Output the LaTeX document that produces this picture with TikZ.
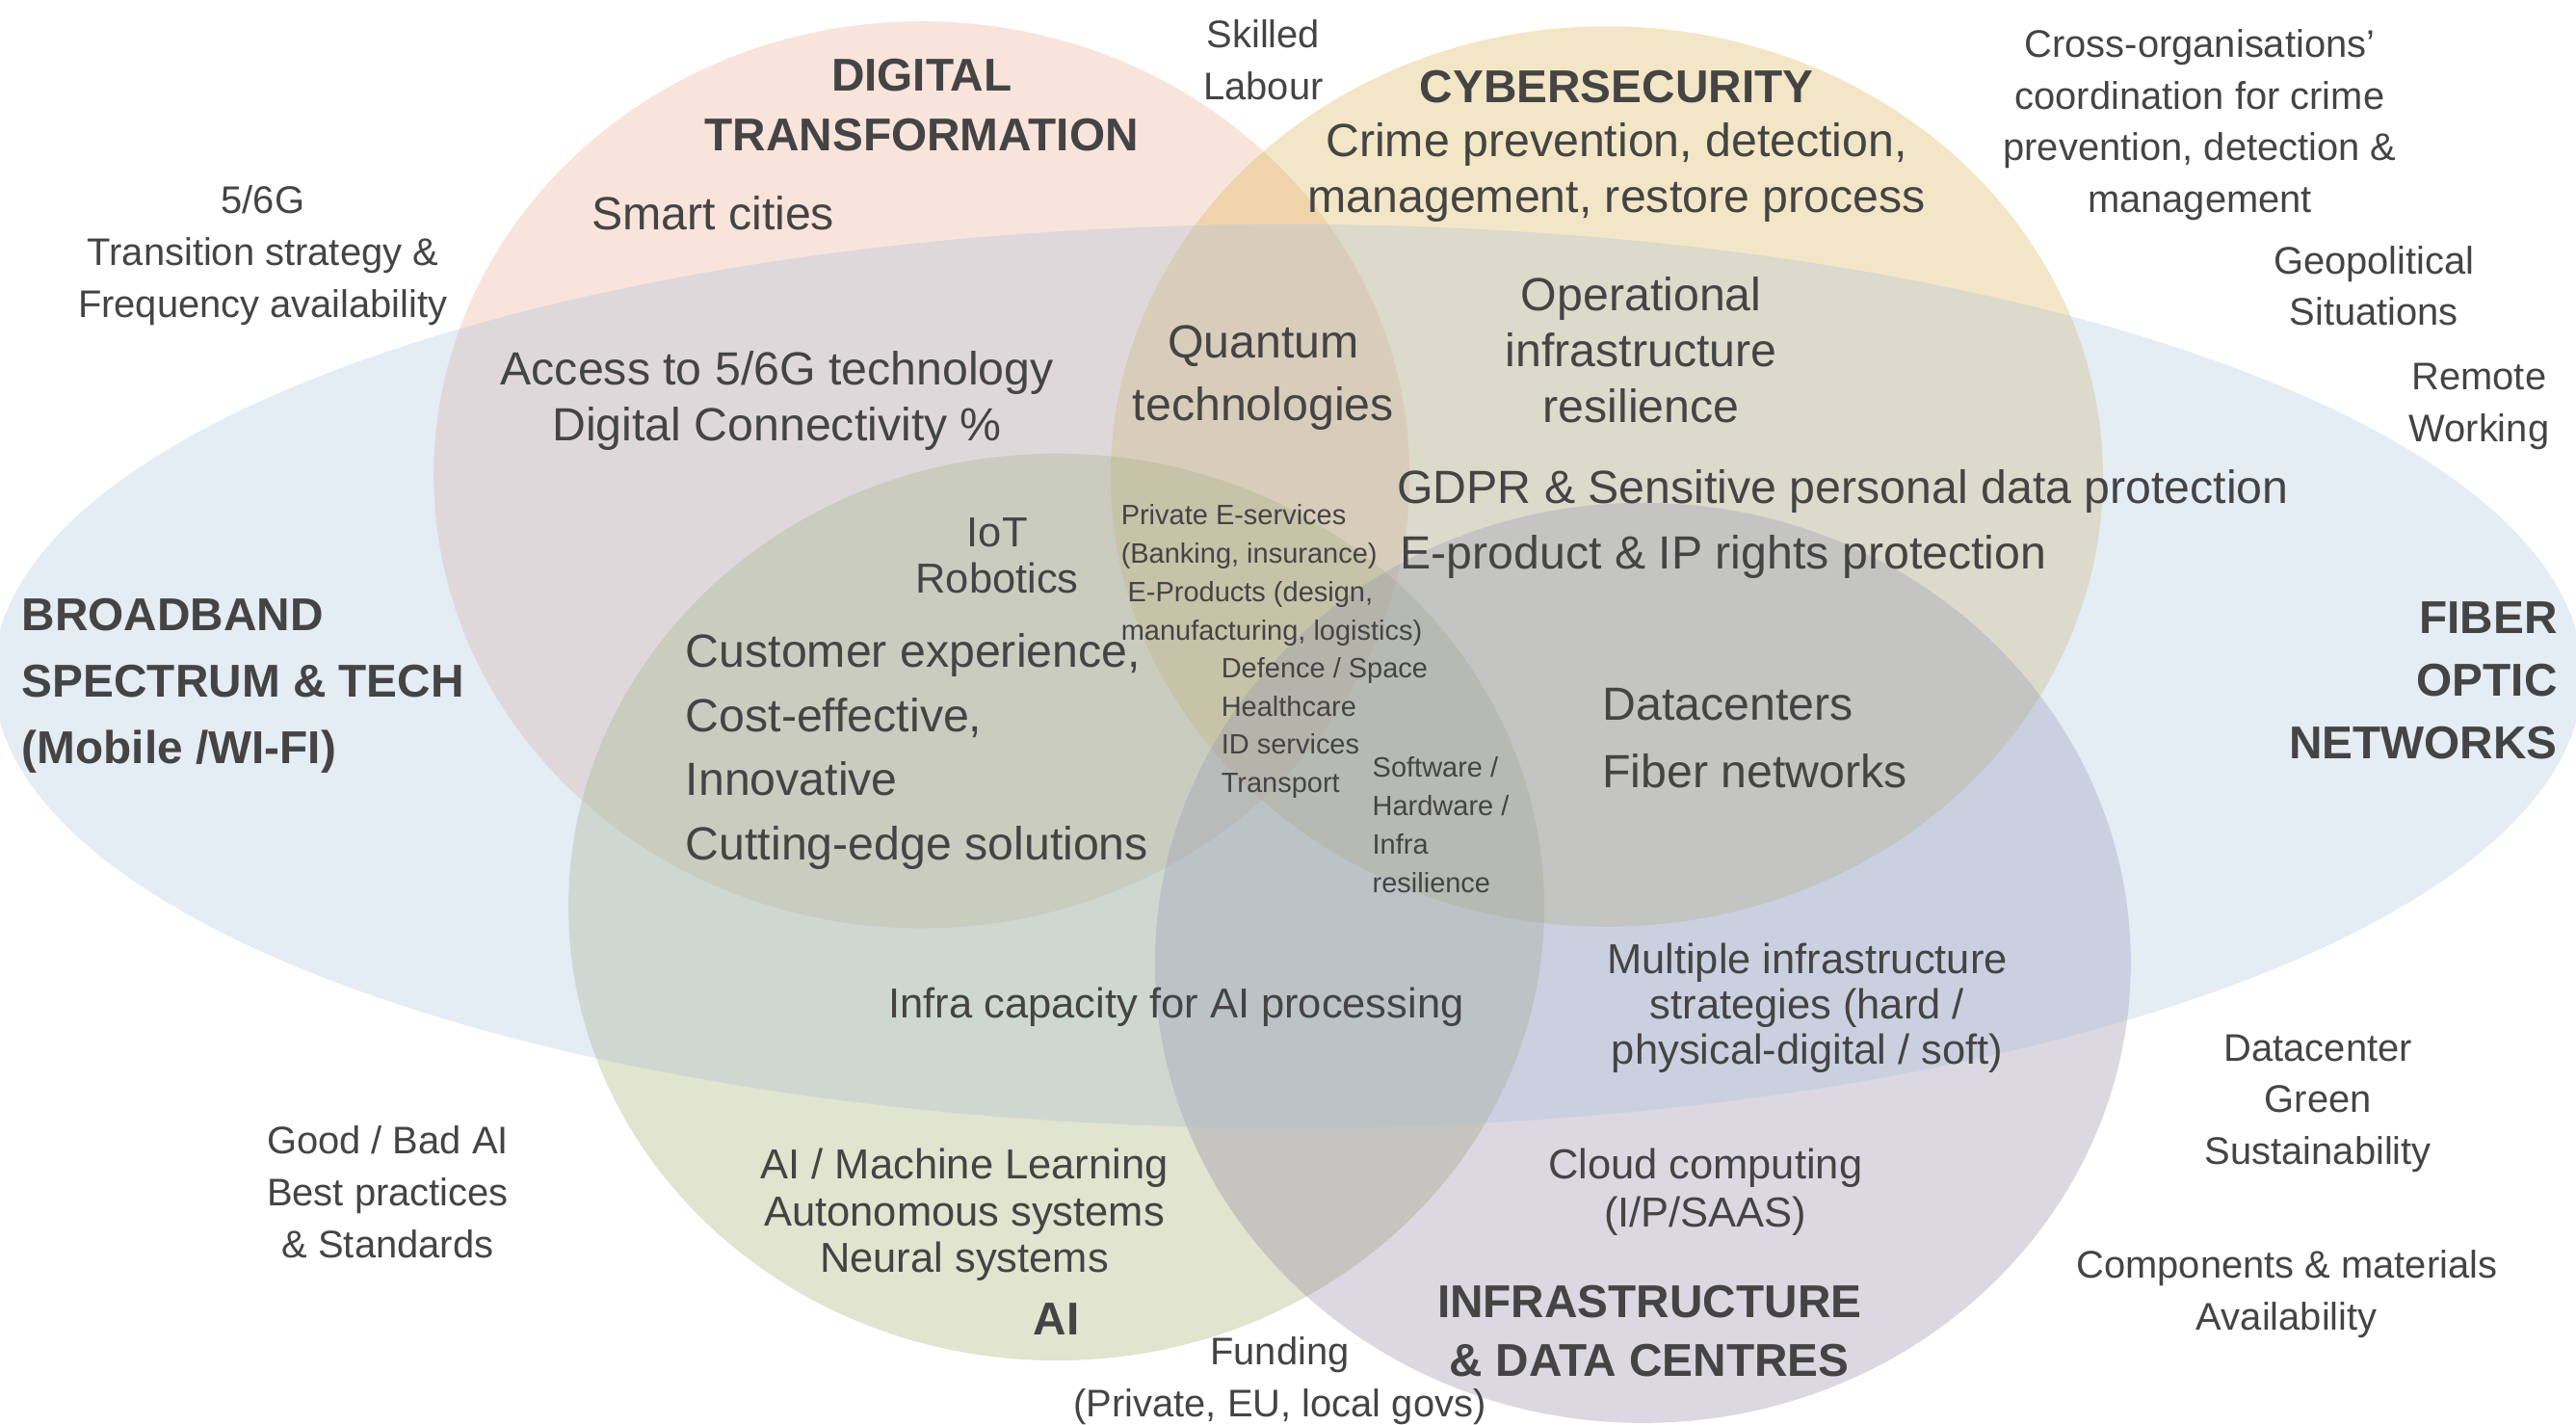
\documentclass[tikz,border=0pt]{standalone}
\usepackage{fontspec}
\setmainfont{Liberation Sans}
\definecolor{txt}{HTML}{444444}
\definecolor{cpink}{RGB}{235,165,138}
\definecolor{cyellow}{RGB}{215,172,65}
\definecolor{cblue}{RGB}{165,192,218}
\definecolor{cgreen}{RGB}{155,165,92}
\definecolor{cpurple}{RGB}{135,125,155}
\newcommand\fsz[2]{\fontsize{#1}{#2}\selectfont}
\tikzset{
  every node/.style={text=txt, inner sep=0pt},
  blob/.style={fill opacity=0.3, draw=none},
  big/.style={font=\fsz{14.15}{17}, yshift=-1.5pt},
  mid/.style={font=\fsz{12.75}{14}, yshift=-1.5pt},
  outer/.style={font=\fsz{11.7}{15.7}, yshift=-1.5pt},
  small/.style={font=\fsz{8.5}{11.7}, yshift=-1pt},
  ttl/.style={font=\fsz{14}{18}\bfseries},
}
\begin{document}
\begin{tikzpicture}[x=0.5pt,y=-0.5pt]
\useasboundingbox (0,0) rectangle (1568,867);
\clip (0,0) rectangle (1568,867);
% sets
\fill[blob, cpink]   (561,289) ellipse [x radius=148.5pt, y radius=138pt];
\fill[blob, cyellow] (978,290) ellipse [x radius=151pt, y radius=137pt];
\fill[blob, cgreen]  (643,552) ellipse [x radius=148.5pt, y radius=138pt];
\fill[blob, cpurple] (1000,586) ellipse [x radius=148.5pt, y radius=140pt];
\fill[blob, cblue]   (784,411.5) ellipse [x radius=394pt, y radius=137.5pt];
% titles
\node[ttl, align=center] (dt) at (561,64) {DIGITAL\\TRANSFORMATION};
\node[ttl] (cy) at (984,53) {CYBERSECURITY};
\node[ttl, align=left, anchor=west, font=\fsz{14}{20.2}\bfseries] (bb) at (13,417.5) {BROADBAND\\SPECTRUM \& TECH\\(Mobile /WI-FI)};
\node[ttl, align=right, anchor=east, font=\fsz{14}{19}\bfseries] (fo) at (1557,414) {FIBER\\OPTIC\\NETWORKS};
\node[ttl] (ai) at (643,803) {AI};
\node[ttl, align=center] (inf) at (1004,810) {INFRASTRUCTURE\\\& DATA CENTRES};
% inner texts
\node[big] (smart) at (434,127) {Smart cities};
\node[big, align=center] (crime) at (984,102) {Crime prevention, detection,\\management, restore process};
\node[big, align=center] (oper) at (999,210) {Operational\\infrastructure\\resilience};
\node[big, align=center, font=\fsz{14.15}{19}] (quant) at (769,227) {Quantum\\technologies};
\node[big, align=center] (access) at (473,241) {Access to 5/6G technology\\Digital Connectivity \%};
\node[big, anchor=west] (gdpr) at (850,296) {GDPR \& Sensitive personal data protection};
\node[big, anchor=west] (eprod) at (852,336) {E-product \& IP rights protection};
\node[mid, align=center] (iot) at (607,335) {IoT\\Robotics};
\node[small, align=left, anchor=west] (priv) at (682,348) {Private E-services\\(Banking, insurance)\\\hspace{2pt}E-Products (design,\\manufacturing, logistics)};
\node[small, align=left, anchor=west] (def) at (743,441) {Defence / Space\\Healthcare\\ID services\\Transport};
\node[small, align=left, anchor=west] (soft) at (835,500) {Software /\\Hardware /\\Infra\\resilience};
\node[big, align=left, anchor=west, font=\fsz{14.15}{19.5}] (cust) at (417,454.5) {Customer experience,\\Cost-effective,\\Innovative\\Cutting-edge solutions};
\node[big, align=left, anchor=west, font=\fsz{14.15}{20.5}] (dc) at (975,446.5) {Datacenters\\Fiber networks};
\node[mid] (infcap) at (716,610) {Infra capacity for AI processing};
\node[mid, align=center, font=\fsz{12.75}{13.75}] (multi) at (1100,610.5) {Multiple infrastructure\\strategies (hard /\\physical-digital / soft)};
\node[mid, align=center, font=\fsz{12.75}{14.25}] (aiml) at (587,736.5) {AI / Machine Learning\\Autonomous systems\\Neural systems};
\node[mid, align=center, font=\fsz{12.75}{14.5}] (cloud) at (1038,722.5) {Cloud computing\\(I/P/SAAS)};
% outer texts
\node[outer, align=center] (skill) at (769,33.5) {Skilled\\Labour};
\node[outer, align=center] (cross) at (1339,73) {Cross-organisations’\\coordination for crime\\prevention, detection \&\\management};
\node[outer, align=center] (fiveg) at (160,152.5) {5/6G\\Transition strategy \&\\Frequency availability};
\node[outer, align=center] (geo) at (1445,171) {Geopolitical\\Situations};
\node[outer, align=center] (remote) at (1509,244.5) {Remote\\Working};
\node[outer, align=center] (green) at (1411,668.5) {Datacenter\\Green\\Sustainability};
\node[outer, align=center] (good) at (236,722.5) {Good / Bad AI\\Best practices\\\& Standards};
\node[outer, align=center] (comp) at (1392,784.5) {Components \& materials\\Availability};
\node[outer, align=center] (fund) at (779,837.5) {Funding\\(Private, EU, local govs)};
\end{tikzpicture}
\end{document}
